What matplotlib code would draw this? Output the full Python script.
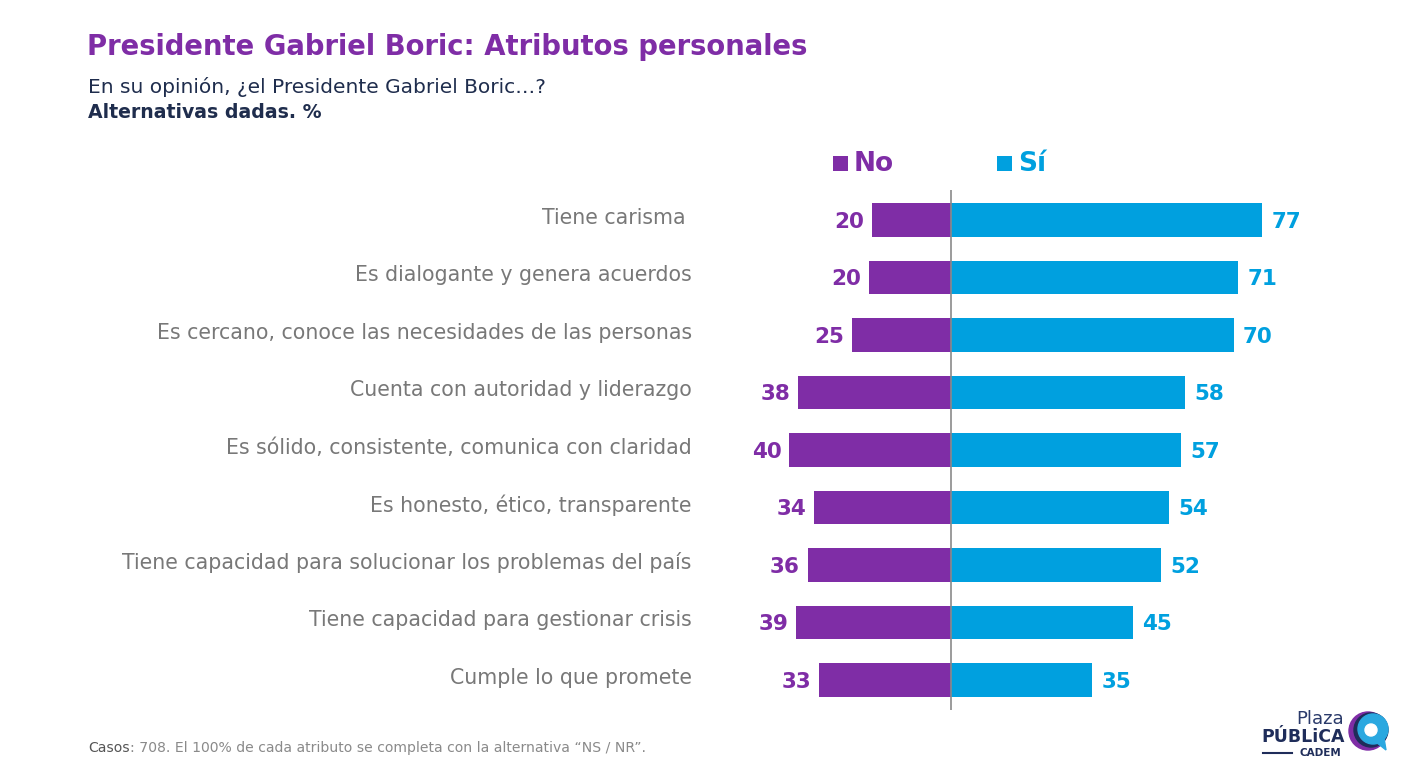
import matplotlib
matplotlib.use("Agg")
import matplotlib.pyplot as plt
from matplotlib.patches import Rectangle, Circle, Polygon
import numpy as np

categories = [
    "Tiene carisma ",
    "Es dialogante y genera acuerdos",
    "Es cercano, conoce las necesidades de las personas",
    "Cuenta con autoridad y liderazgo",
    "Es sólido, consistente, comunica con claridad",
    "Es honesto, ético, transparente",
    "Tiene capacidad para solucionar los problemas del país",
    "Tiene capacidad para gestionar crisis",
    "Cumple lo que promete",
]
no_values = [20, 20, 25, 38, 40, 34, 36, 39, 33]
si_values = [77, 71, 70, 58, 57, 54, 52, 45, 35]
no_widths = [19.5, 20.2, 24.5, 37.8, 40.0, 33.9, 35.4, 38.3, 32.6]

PURPLE = "#7F2DA6"
BLUE = "#00A0DF"
NAVY = "#1F2D4D"
GREY = "#787878"

plt.rcParams["font.family"] = ["DejaVu Sans"]

W, H = 1411, 775
fig = plt.figure(figsize=(W / 100, H / 100), dpi=100)
fig.patch.set_facecolor("white")

scale = 4.04
cx = 951
xmin, xmax = -60, 100
left_px = cx + xmin * scale
right_px = cx + xmax * scale
top_px, bot_px = 190, 710
ax = fig.add_axes([left_px / W, 1 - bot_px / H, (right_px - left_px) / W, (bot_px - top_px) / H])
ax.set_xlim(xmin, xmax)
ax.set_ylim(8.52, -0.52)
ax.axis("off")

y = np.arange(len(categories))
bh = 0.58
ax.barh(y, [-w for w in no_widths], height=bh, color=PURPLE, linewidth=0)
ax.barh(y, si_values, height=bh, color=BLUE, linewidth=0)
ax.axvline(0, color="#8a8a8a", linewidth=1.2, zorder=3)

for i, (cat, n, w, s) in enumerate(zip(categories, no_values, no_widths, si_values)):
    ax.text(-64.2, i - 0.04, cat, ha="right", va="center", fontsize=14.8, color=GREY, clip_on=False)
    ax.text(-w - 2.0, i + 0.03, str(n), ha="right", va="center", fontsize=15.5,
            fontweight="bold", color=PURPLE, clip_on=False)
    ax.text(s + 2.3, i + 0.03, str(s), ha="left", va="center", fontsize=15.5,
            fontweight="bold", color=BLUE, clip_on=False)

def px(x, yy):
    return x / W, 1 - yy / H

fig.text(*px(87, 47), "Presidente Gabriel Boric: Atributos personales", fontsize=19.8,
         fontweight="bold", color=PURPLE, va="center", ha="left")
fig.text(*px(88, 87), "En su opinión, ¿el Presidente Gabriel Boric…?", fontsize=14.5,
         color=NAVY, va="center", ha="left")
fig.text(*px(88, 112), "Alternativas dadas. %", fontsize=13.6, fontweight="bold",
         color=NAVY, va="center", ha="left")

fig.patches.append(Rectangle(px(833, 171), 15 / W, 15 / H, transform=fig.transFigure,
                             color=PURPLE, linewidth=0))
fig.text(*px(854, 164), "No", fontsize=19, fontweight="bold", color=PURPLE, va="center", ha="left")
fig.patches.append(Rectangle(px(997, 171), 15 / W, 15 / H, transform=fig.transFigure,
                             color=BLUE, linewidth=0))
fig.text(*px(1018, 164), "Sí", fontsize=19, fontweight="bold", color=BLUE, va="center", ha="left")

t1 = fig.text(*px(88, 748), "Casos", fontsize=10.1, color="#555555", va="center", ha="left")
fig.canvas.draw()
bb = t1.get_window_extent()
fig.text(bb.x1 / W, 1 - 748 / H, ": 708. El 100% de cada atributo se completa con la alternativa \u201cNS / NR\u201d.",
         fontsize=10.1, color="#8a8a8a", va="center", ha="left")

# Logo
fig.text(*px(1344, 719), "Plaza", fontsize=13, color="#2a3a6a", va="center", ha="right")
fig.text(*px(1345, 737), "PÚBLiCA", fontsize=12.5, fontweight="bold", color="#1F2D5A", va="center", ha="right")
fig.text(*px(1341, 753), "CADEM", fontsize=7.5, fontweight="bold", color="#1F2D5A", va="center", ha="right")
fig.add_artist(plt.Line2D([1263 / W, 1292 / W], [1 - 753 / H] * 2, transform=fig.transFigure,
                          color="#1F2D5A", linewidth=1.5))
lax = fig.add_axes([1346 / W, 1 - 752 / H, 46 / W, 42 / H])
lax.set_xlim(0, 46)
lax.set_ylim(0, 42)
lax.set_aspect("equal")
lax.axis("off")
lax.add_patch(Circle((22, 21), 19, color="#7F2DA6"))
lax.add_patch(Circle((25, 22), 17, color="#1F2D5A"))
lax.add_patch(Circle((27, 23), 15, color="#2AA8E0"))
lax.add_patch(Circle((25, 22), 6, color="white"))
lax.add_patch(Polygon([[30, 10], [40, 2], [38, 14]], color="#2AA8E0"))

fig.savefig("out.png", dpi=100, facecolor="white")
